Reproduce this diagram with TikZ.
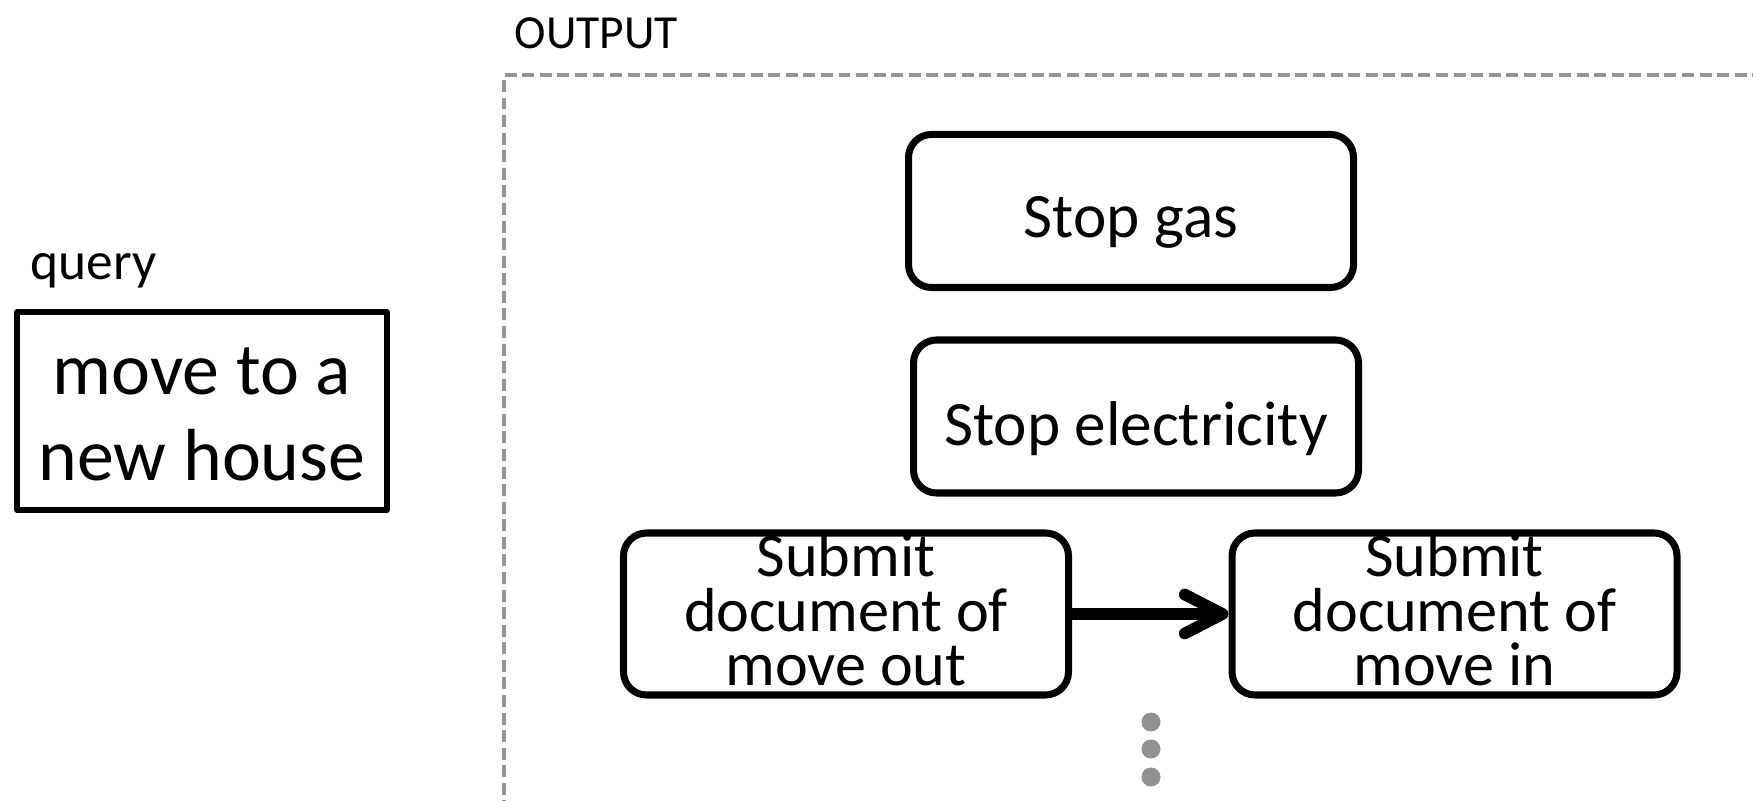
\documentclass[tikz,border=0pt]{standalone}
\usepackage{fontspec}
\setmainfont{Carlito}
\usetikzlibrary{arrows.meta}
\definecolor{frame}{RGB}{150,150,150}
\definecolor{dots}{RGB}{145,145,145}
\tikzset{
  >={Straight Barb[length=3.8mm,width=3.9mm,line cap=round,line join=round]},
  query box/.style={draw,line width=1.5pt,line join=round,minimum width=3.7cm,minimum height=1.98cm,
    inner sep=0pt,align=center,text height=39.5pt,text depth=0pt,font=\fontsize{21}{24.5}\selectfont},
  task box/.style={draw,line width=2pt,rounded corners=0.23cm,minimum width=4.45cm,
    minimum height=1.53cm,inner sep=0pt,align=center,text height=19.5pt,text depth=4.5pt,
    font=\fontsize{18}{21}\selectfont},
  tight/.style={text height=,text depth=2.6pt,font=\fontsize{17.7}{15.6}\selectfont},
  caption/.style={anchor=base west,inner sep=0pt,font=\fontsize{#1}{#1}\selectfont},
  caption/.default=14,
  flow/.style={->,line width=3.3pt,line cap=round},
  out frame/.style={draw=frame,line width=1pt,dash pattern=on 3.4pt off 1.6pt},
}
\begin{document}
\begin{tikzpicture}
  \useasboundingbox (0,0) rectangle (17.53,-8.01);
  % query side
  \node[caption=15.2] (ql) at (0.30,-2.80) {query};
  \node[query box] (q) at (2.02,-4.11) {move to a\\new house};
  % output frame
  \node[caption=13.5] (ol) at (5.14,-0.49) {OUTPUT};
  \draw[out frame] (5.04,-8.3) |- (17.8,-0.75);
  \node[task box] (gas) at (11.31,-2.11) {Stop gas};
  \node[task box,text height=21pt] (elec) at (11.36,-4.165) {Stop electricity};
  \node[task box,tight] (out) at (8.46,-6.14) {Submit\\document of\\move out};
  \node[task box,tight] (in) at (14.545,-6.14) {Submit\\document of\\move in};
  \draw[flow] (out.east) -- (in.west);
  \foreach \y in {7.22,7.49,7.77} \fill[dots] (11.51,-\y) circle (0.095);
\end{tikzpicture}
\end{document}
